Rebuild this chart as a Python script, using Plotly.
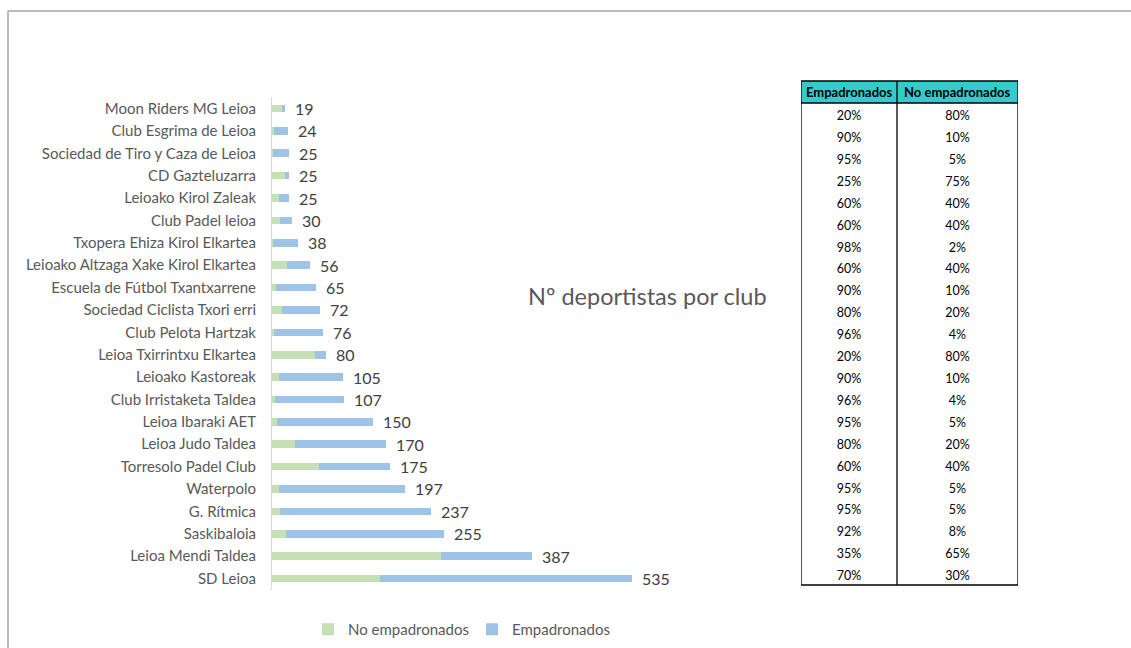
import plotly.graph_objects as go

clubs = ["Moon Riders MG Leioa", "Club Esgrima de Leioa", "Sociedad de Tiro y Caza de Leioa",
         "CD Gazteluzarra", "Leioako Kirol Zaleak", "Club Padel leioa",
         "Txopera Ehiza Kirol Elkartea", "Leioako Altzaga Xake Kirol Elkartea",
         "Escuela de Fútbol Txantxarrene", "Sociedad Ciclista Txori erri", "Club Pelota Hartzak",
         "Leioa Txirrintxu Elkartea", "Leioako Kastoreak", "Club Irristaketa Taldea",
         "Leioa Ibaraki AET", "Leioa Judo Taldea", "Torresolo Padel Club", "Waterpolo",
         "G. Rítmica", "Saskibaloia", "Leioa Mendi Taldea", "SD Leioa"]
totals = [19, 24, 25, 25, 25, 30, 38, 56, 65, 72, 76, 80, 105, 107, 150, 170, 175, 197, 237, 255, 387, 535]
emp_pct = [20, 90, 95, 25, 60, 60, 98, 60, 90, 80, 96, 20, 90, 96, 95, 80, 60, 95, 95, 92, 35, 70]
no_emp_pct = [80, 10, 5, 75, 40, 40, 2, 40, 10, 20, 4, 80, 10, 4, 5, 20, 40, 5, 5, 8, 65, 30]
table_headers = ["Empadronados", "No empadronados"]

no_emp_vals = [t * p / 100 for t, p in zip(totals, no_emp_pct)]
emp_vals = [t * p / 100 for t, p in zip(totals, emp_pct)]

W, H = 1131, 648
FONT = "Lato"


def px(x):
    return x / W


def py(y):
    return 1 - y / H


fig = go.Figure()
fig.add_trace(go.Bar(y=clubs, x=no_emp_vals, orientation="h", name="No empadronados",
                     marker=dict(color="#C5E0B4", line=dict(width=0)), hoverinfo="skip"))
fig.add_trace(go.Bar(y=clubs, x=emp_vals, orientation="h", name="Empadronados",
                     marker=dict(color="#9DC3E6", line=dict(width=0)), hoverinfo="skip"))

# table drawn on its own axes (column units = px width, row units = rows)
T_LEFT, T_TOP, T_HEAD, T_BOT = 801, 81, 103, 585
col_w = [96, 121]
col_centers = [col_w[0] / 2, col_w[0] + col_w[1] / 2]
rows = list(range(len(emp_pct)))
for ci, vals in enumerate([emp_pct, no_emp_pct]):
    fig.add_trace(go.Scatter(x=[col_centers[ci]] * len(vals), y=rows, mode="text",
                             text=[f"{v}%" for v in vals], textposition="middle center",
                             textfont=dict(family=FONT, size=12.5, color="black"),
                             xaxis="x2", yaxis="y2", showlegend=False, hoverinfo="skip",
                             cliponaxis=False))

x_dom = [px(272), px(780)]
scale = 360 / 535
x_max = (780 - 272) / scale

annotations = []
for c, t in zip(clubs, totals):
    annotations.append(dict(x=t, y=c, xref="x", yref="y", text=str(t), showarrow=False,
                            xanchor="left", xshift=8, font=dict(family=FONT, size=16, color="#404040")))
annotations.append(dict(x=px(647), y=py(296), xref="paper", yref="paper", text="Nº deportistas por club",
                        showarrow=False, font=dict(family=FONT, size=23.5, color="#595959")))
for ci, h in enumerate(table_headers):
    annotations.append(dict(x=px(T_LEFT + col_centers[ci]), y=py(92), xref="paper", yref="paper",
                            xanchor="center", yanchor="middle", text=f"<b>{h}</b>",
                            showarrow=False, font=dict(family=FONT, size=13, color="black")))

shapes = [
    # outer frame
    dict(type="line", xref="paper", yref="paper", x0=px(8), x1=1, y0=py(11), y1=py(11),
         line=dict(color="#A6A6A6", width=1.5)),
    dict(type="line", xref="paper", yref="paper", x0=px(8), x1=px(8), y0=py(11), y1=0,
         line=dict(color="#A6A6A6", width=1.5)),
    # table header fill
    dict(type="rect", xref="x2", yref="paper", x0=0, x1=sum(col_w), y0=py(T_HEAD), y1=py(T_TOP),
         fillcolor="#33CCCC", line=dict(width=0), layer="below"),
    # table borders
    dict(type="rect", xref="x2", yref="paper", x0=0, x1=sum(col_w), y0=py(T_BOT), y1=py(T_TOP),
         line=dict(color="black", width=1.3)),
    dict(type="line", xref="x2", yref="paper", x0=col_w[0], x1=col_w[0], y0=py(T_BOT), y1=py(T_TOP),
         line=dict(color="black", width=1.3)),
    dict(type="line", xref="x2", yref="paper", x0=0, x1=sum(col_w), y0=py(T_HEAD), y1=py(T_HEAD),
         line=dict(color="black", width=1.3)),
]

n = len(emp_pct)
fig.update_layout(
    width=W, height=H, margin=dict(l=0, r=0, t=0, b=0),
    paper_bgcolor="white", plot_bgcolor="rgba(0,0,0,0)",
    barmode="stack", bargap=0.66,
    font=dict(family=FONT, color="#595959"),
    xaxis=dict(domain=x_dom, range=[0, x_max], visible=False, showgrid=False, zeroline=False),
    yaxis=dict(domain=[py(590), py(97)], autorange="reversed", showline=True, linecolor="#D9D9D9",
               linewidth=1, ticks="", ticklabelstandoff=12,
               tickfont=dict(family=FONT, size=15, color="#595959"), showgrid=False),
    xaxis2=dict(domain=[px(T_LEFT), px(T_LEFT + sum(col_w))], range=[0, sum(col_w)], visible=False,
                anchor="y2", showgrid=False, zeroline=False, fixedrange=True),
    yaxis2=dict(domain=[py(T_BOT + 3), py(T_HEAD + 3)], range=[n - 0.5, -0.5], visible=False, anchor="x2",
                showgrid=False, zeroline=False, fixedrange=True),
    legend=dict(orientation="h", x=px(308), y=py(613), xanchor="left", yanchor="top",
                font=dict(family=FONT, size=15, color="#595959"),
                entrywidth=119, entrywidthmode="pixels", traceorder="normal"),
    annotations=annotations, shapes=shapes,
)

fig.write_html("out.html", config={"displayModeBar": False},
               post_script="document.body.style.margin='0';")
